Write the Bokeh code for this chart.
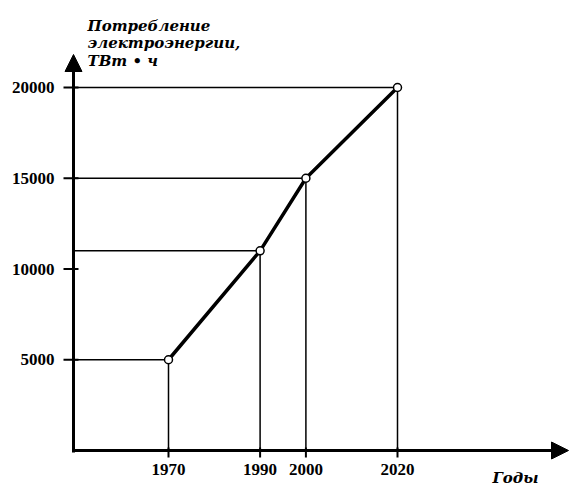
from bokeh.plotting import figure
from bokeh.models import Range1d, Arrow, NormalHead, ColumnDataSource
from bokeh.core.properties import value
from bokeh.embed import file_html
from bokeh.resources import INLINE

# ---- data ----
years = [1970, 1990, 2000, 2020]
consumption = [5000, 11000, 15000, 20000]
y_ticks = [5000, 10000, 15000, 20000]
y_tick_labels = ["5000", "10000", "15000", "20000"]
x_ticks = [1970, 1990, 2000, 2020]
x_tick_labels = ["1970", "1990", "2000", "2020"]
title_lines = ["Потребление", "электроэнергии,", "ТВт • ч"]
x_label = "Годы"

# ---- layout (canvas pixels) ----
W, H = 569, 485
KX = 4.58        # px per year
KY = 0.01815     # px per unit of consumption
PX_1970 = 168    # canvas x of year 1970
PX_ZERO = 450    # canvas y of value 0
AX_X = 73        # canvas x of the vertical axis

X0 = 1970 - PX_1970 / KX
X1 = X0 + W / KX
Y1 = PX_ZERO / KY
Y0 = Y1 - H / KY


def xd(px):
    return X0 + px / KX


def yd(py):
    return Y1 - py / KY


p = figure(width=W, height=H, x_range=Range1d(X0, X1), y_range=Range1d(Y0, Y1),
           output_backend="svg", toolbar_location=None,
           min_border=0)
p.xaxis.visible = False
p.yaxis.visible = False
p.grid.visible = False
p.outline_line_color = None
p.background_fill_color = "white"
p.border_fill_color = "white"

n = len(years)
src = ColumnDataSource(dict(x=years, y=consumption,
                            xa=[xd(AX_X)] * n, y0=[0] * n))

# guide lines
p.segment(x0="xa", y0="y", x1="x", y1="y", source=src, line_color="black", line_width=1.5)
p.segment(x0="x", y0="y0", x1="x", y1="y", source=src, line_color="black", line_width=1.5)

# axes with arrow heads
p.add_layout(Arrow(x_start=xd(AX_X), y_start=yd(PX_ZERO + 2), x_end=xd(AX_X), y_end=yd(54),
                   line_width=3, line_color="black",
                   end=NormalHead(size=17, fill_color="black", line_color="black", line_width=1)))
p.add_layout(Arrow(x_start=xd(AX_X - 1), y_start=0, x_end=xd(568), y_end=0,
                   line_width=3, line_color="black",
                   end=NormalHead(size=17, fill_color="black", line_color="black", line_width=1)))

# ticks
p.segment(x0=[xd(AX_X - 10)] * len(y_ticks), x1=[xd(AX_X + 5)] * len(y_ticks),
          y0=y_ticks, y1=y_ticks, line_color="black", line_width=2)
p.segment(x0=x_ticks, x1=x_ticks, y0=[yd(PX_ZERO - 3)] * len(x_ticks),
          y1=[yd(PX_ZERO + 7)] * len(x_ticks), line_color="black", line_width=2)

# tick labels
p.text(x=[xd(54)] * len(y_ticks), y=y_ticks, text=y_tick_labels,
       text_font=value("Liberation Serif"), text_font_style="bold", text_font_size="17px",
       text_align="right", text_baseline="middle", text_color="black")
p.text(x=x_ticks, y=[yd(469)] * len(x_ticks), text=x_tick_labels,
       text_font=value("Liberation Serif"), text_font_style="bold", text_font_size="17px",
       text_align="center", text_baseline="middle", text_color="black")

# main line and markers
p.line(x="x", y="y", source=src, line_color="black", line_width=3.5)
p.scatter(x="x", y="y", source=src, size=8, fill_color="white", line_color="black", line_width=1.5)

# titles
p.text(x=[xd(87)] * len(title_lines), y=[yd(25 + 17.5 * i) for i in range(len(title_lines))],
       text=title_lines, text_font=value("DejaVu Serif"), text_font_style="bold italic",
       text_font_size="15px", text_align="left", text_baseline="alphabetic", text_color="black")
p.text(x=[xd(492)], y=[yd(477)], text=[x_label], text_font=value("DejaVu Serif"),
       text_font_style="bold italic", text_font_size="15px", text_align="left",
       text_baseline="alphabetic", text_color="black")

open("out.html", "w").write(file_html(p, INLINE))
